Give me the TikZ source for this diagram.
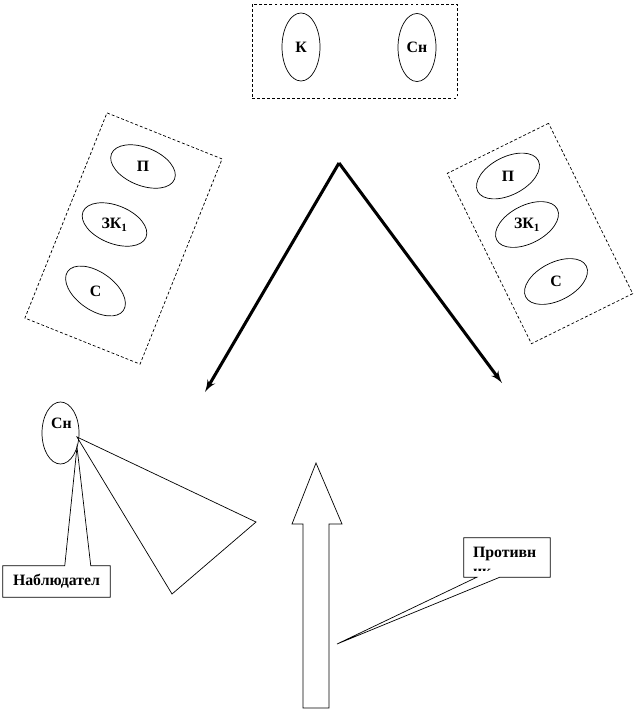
\documentclass[tikz,border=0pt]{standalone}
\usepackage{fontspec}
\setmainfont{Liberation Serif}
\usetikzlibrary{shapes,arrows,positioning,calc}
\tikzstyle{group} = [draw, rectangle, line width=0.6pt, dash pattern=on 2.5pt off 1.8pt]
\tikzstyle{unit} = [draw, ellipse, line width=0.6pt, inner sep=0pt, minimum width=2.04cm, minimum height=1.14cm]
\tikzstyle{lbl} = [font=\bfseries\fontsize{13.5}{14.5}\selectfont, inner sep=0pt]
\tikzstyle{line} = [draw, line width=2.6pt, -latex']
\tikzstyle{thinline} = [draw, line width=0.6pt]

\begin{document}
\begin{tikzpicture}[x=0.03cm, y=-0.03cm]
    \useasboundingbox (0,0) rectangle (636,711);

    % top group
    \node [group, minimum width=6.15cm, minimum height=2.82cm] (topgrp) at (354.5,51) {};
    \node [unit, minimum width=1.14cm, minimum height=2.04cm] (k) at (301,47) {};
    \node [unit, minimum width=1.14cm, minimum height=2.04cm] (sn) at (417,47.5) {};
    \node [lbl] (kt) at (k) {К};
    \node [lbl] (snt) at (sn) {Сн};

    % left group
    \node [group, rotate=-21.8, minimum width=3.72cm, minimum height=6.63cm] (leftgrp) at (123.5,238.5) {};
    \node [unit, rotate=-22] (lp) at (143,166.5) {};
    \node [unit, rotate=-22] (lzk) at (114.5,224.5) {};
    \node [unit, rotate=-35] (ls) at (95.5,291) {};
    \node [lbl] (lpt) at (lp) {П};
    \node [lbl] (lzkt) at (lzk) {ЗК\textsubscript{1}};
    \node [lbl] (lst) at (ls) {С};

    % right group
    \node [group, rotate=26.3, minimum width=3.39cm, minimum height=5.7cm] (rightgrp) at (540,233.5) {};
    \node [unit, rotate=27] (rp) at (508,176) {};
    \node [unit, rotate=27] (rzk) at (527,224.5) {};
    \node [unit, rotate=27] (rs) at (556,281.5) {};
    \node [lbl] (rpt) at (rp) {П};
    \node [lbl] (rzkt) at (rzk) {ЗК\textsubscript{1}};
    \node [lbl] (rst) at (rs) {С};

    % split arrows
    \coordinate (apex) at (339,163);
    \coordinate (lend) at (205,392);
    \coordinate (rend) at (502,383);
    \path [line] (apex) -- (lend);
    \path [line] (apex) -- (rend);

    % observer
    \node [unit, minimum width=1.11cm, minimum height=1.86cm] (sn2) at (60.5,433) {};
    \node [lbl] (sn2t) at ($(sn2.center)+(1,-10)$) {Сн};
    \coordinate (eye) at (77,437);
    \path [thinline] (eye) -- (256,522) -- (172,594) -- cycle;

    \coordinate (obstip) at (77,447);
    \node [lbl, minimum width=3.21cm, minimum height=0.93cm] (obs) at (56.5,581.5) {Наблюдател};
    \path [thinline] (obs.north west) -- ($(obs.north west)+(62,0)$) -- (obstip)
        -- ($(obs.north west)+(88,0)$) -- (obs.north east) -- (obs.south east)
        -- (obs.south west) -- cycle;

    % big arrow
    \path [thinline] (316,463) -- (342,524) -- (329,524) -- (329,708)
        -- (303,708) -- (303,524) -- (292,524) -- cycle;

    % enemy
    \coordinate (enemytip) at (337,644);
    \node [minimum width=2.58cm, minimum height=1.17cm, inner sep=0pt] (enemy) at (507,557.5) {};
    \begin{scope}
        \clip (enemy.north west) rectangle ($(enemy.south east)+(0,-7)$);
        \node [lbl, anchor=north west, align=left] (enemyt) at ($(enemy.north west)+(9,9)$) {Противн\\[2pt]ик};
    \end{scope}
    \path [thinline] (enemy.north west) -- (enemy.north east) -- (enemy.south east)
        -- ($(enemy.south west)+(36,0)$) -- (enemytip) -- ($(enemy.south west)+(13,0)$)
        -- (enemy.south west) -- cycle;
\end{tikzpicture}
\end{document}
